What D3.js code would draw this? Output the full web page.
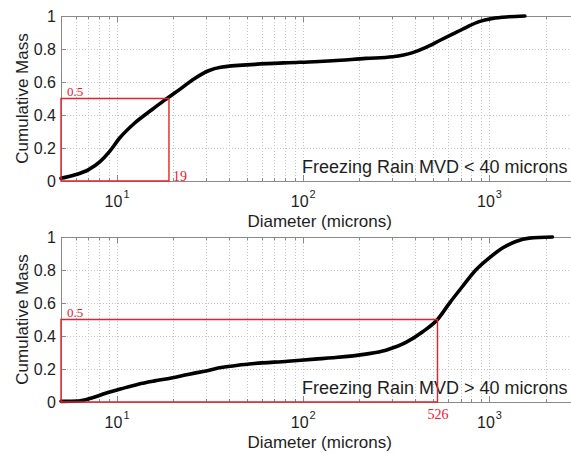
<!DOCTYPE html>
<html>
<head>
<meta charset="utf-8">
<script src="https://cdn.jsdelivr.net/npm/d3@7"></script>
<style>
  html, body { margin: 0; padding: 0; background: #fff; }
  svg { display: block; }
  text { font-family: "Liberation Sans", Arial, Helvetica, sans-serif; fill: #1e1e1e; }
</style>
</head>
<body>
<svg id="chart" width="571" height="454"></svg>
<script>
// Cumulative mass distributions of freezing rain drop diameters (microns)
const smallDiameter = [5, 5.9, 7.0, 8.1, 9.1, 10.3, 12.4, 15.3, 18, 22, 26, 31, 36, 55, 83, 115, 144, 217, 302, 387, 456, 537, 633, 747, 880, 1040, 1270, 1550];
const smallMass     = [0.016, 0.036, 0.067, 0.117, 0.178, 0.259, 0.35, 0.43, 0.49, 0.56, 0.62, 0.668, 0.689, 0.707, 0.717, 0.723, 0.729, 0.743, 0.753, 0.778, 0.81, 0.85, 0.89, 0.93, 0.966, 0.985, 0.995, 1.0];

const largeDiameter = [5, 6.2, 7.3, 8.6, 10.6, 13, 15.9, 19.6, 24, 29.5, 36.3, 44.6, 54.7, 82.6, 115, 144, 217, 278, 356, 438, 526, 609, 716, 845, 995, 1174, 1386, 1634, 2180];
const largeMass     = [0.004, 0.006, 0.024, 0.051, 0.081, 0.108, 0.128, 0.146, 0.167, 0.187, 0.209, 0.223, 0.233, 0.247, 0.26, 0.268, 0.29, 0.314, 0.361, 0.426, 0.5, 0.598, 0.70, 0.80, 0.872, 0.933, 0.973, 0.993, 1.0];

const panelTitles = ["Freezing Rain MVD < 40 microns", "Freezing Rain MVD > 40 microns"];
const medianMass = [0.5, 0.5];
const medianDiameter = [19, 526];
const yTickValues = [0, 0.2, 0.4, 0.6, 0.8, 1];
const yTickLabels = ["0", "0.2", "0.4", "0.6", "0.8", "1"];
const xMajorTicks = [10, 100, 1000];
const xAxisTitle = "Diameter (microns)";
const yAxisTitle = "Cumulative Mass";

const panels = [
  { diam: smallDiameter, mass: smallMass, top: 16, title: panelTitles[0], mv: medianMass[0], md: medianDiameter[0], upper: true },
  { diam: largeDiameter, mass: largeMass, top: 237, title: panelTitles[1], mv: medianMass[1], md: medianDiameter[1], upper: false }
];

const svg = d3.select("#chart");
const left = 61, plotH = 165;
const decade = 186.2;
const xDomain = [5, 3000];
const xRight = left + (Math.log10(xDomain[1]) - Math.log10(xDomain[0])) * decade;
const frameColor = "#8a8a8a";
const red = "#e8202c";

panels.forEach(p => {
  const g = svg.append("g").attr("transform", `translate(0,${p.top})`);
  const x = d3.scaleLog().domain(xDomain).range([left, xRight]);
  const y = d3.scaleLinear().domain([0, 1]).range([plotH, 0]);

  // dotted grid
  const grid = g.append("g").attr("stroke", "#c4c4c4").attr("stroke-width", 1).attr("stroke-dasharray", "1,2");
  grid.selectAll("line.vx").data(x.ticks()).join("line")
    .attr("x1", d => Math.round(x(d)) + 0.5).attr("x2", d => Math.round(x(d)) + 0.5)
    .attr("y1", 0).attr("y2", plotH);
  grid.selectAll("line.hy").data(yTickValues.slice(1, -1)).join("line")
    .attr("x1", left).attr("x2", xRight)
    .attr("y1", d => Math.round(y(d)) + 0.5).attr("y2", d => Math.round(y(d)) + 0.5);

  // inward tick marks, bottom and top
  const minor = x.ticks().filter(d => !xMajorTicks.includes(d));
  [[plotH, -1], [0, 1]].forEach(([yy, dir]) => {
    g.append("g").selectAll("line").data(minor).join("line")
      .attr("x1", d => Math.round(x(d)) + 0.5).attr("x2", d => Math.round(x(d)) + 0.5)
      .attr("y1", yy).attr("y2", yy + dir * 3)
      .attr("stroke", frameColor);
    g.append("g").selectAll("line").data(xMajorTicks).join("line")
      .attr("x1", d => Math.round(x(d)) + 0.5).attr("x2", d => Math.round(x(d)) + 0.5)
      .attr("y1", yy).attr("y2", yy + dir * 6)
      .attr("stroke", frameColor);
  });

  // left axis
  const yAxis = d3.axisLeft(y).tickValues(yTickValues)
    .tickFormat((d, i) => yTickLabels[i]).tickSize(-5).tickPadding(5);
  const ya = g.append("g").attr("transform", `translate(${left},0)`).call(yAxis);
  ya.select(".domain").attr("stroke", frameColor);
  ya.selectAll(".tick line").attr("stroke", frameColor);
  ya.selectAll(".tick text").style("font-size", "16px").attr("fill", "#1e1e1e")
    .style("font-family", "'Liberation Sans', Arial, sans-serif");

  // frame top and bottom
  g.append("line").attr("x1", left).attr("x2", xRight).attr("y1", 0.5).attr("y2", 0.5).attr("stroke", frameColor);
  g.append("line").attr("x1", left).attr("x2", xRight).attr("y1", plotH + 0.5).attr("y2", plotH + 0.5).attr("stroke", frameColor);

  // decade tick labels
  g.selectAll("text.xl").data(xMajorTicks).join("text")
    .attr("x", d => x(d)).attr("y", plotH + 26)
    .attr("text-anchor", "middle")
    .style("font-size", "16px")
    .each(function (d) {
      const t = d3.select(this);
      t.append("tspan").text("10");
      t.append("tspan").attr("dy", -9).attr("dx", 1).style("font-size", "11px").text(Math.round(Math.log10(d)));
    });

  // axis titles
  g.append("text").attr("x", (left + xRight) / 2).attr("y", plotH + 46)
    .attr("text-anchor", "middle").style("font-size", "17px").text(xAxisTitle);
  g.append("text").attr("transform", `translate(28,${plotH / 2}) rotate(-90)`)
    .attr("text-anchor", "middle").style("font-size", "17px").text(yAxisTitle);

  // panel annotation
  g.append("text").attr("x", 302).attr("y", plotH - 8)
    .style("font-size", "18px").text(p.title);

  // cumulative mass curve
  const pts = p.diam.map((d, i) => [d, p.mass[i]]);
  g.append("path").datum(pts)
    .attr("d", d3.line().x(d => x(d[0])).y(d => y(d[1])).curve(d3.curveMonotoneX))
    .attr("fill", "none").attr("stroke", "#000").attr("stroke-width", 3.6)
    .attr("stroke-linejoin", "round").attr("stroke-linecap", "round");

  // median marker box
  g.append("path")
    .attr("d", `M${x(xDomain[0])},${y(p.mv)}H${x(p.md)}V${y(0)}H${x(xDomain[0])}Z`)
    .attr("fill", "none").style("stroke", red).attr("stroke-width", 1.4);
  g.append("text").attr("x", x(xDomain[0]) + 6).attr("y", y(p.mv) - 3)
    .style("font-family", "'Liberation Serif', 'Times New Roman', serif")
    .style("font-size", "13px").style("fill", red).text(p.mv);
  g.append("text")
    .attr("x", p.upper ? x(p.md) + 4 : x(p.md) - 10)
    .attr("y", p.upper ? plotH : plotH + 17)
    .style("font-family", "'Liberation Serif', 'Times New Roman', serif")
    .style("font-size", "14px").style("fill", red).text(p.md);
});
</script>
</body>
</html>
